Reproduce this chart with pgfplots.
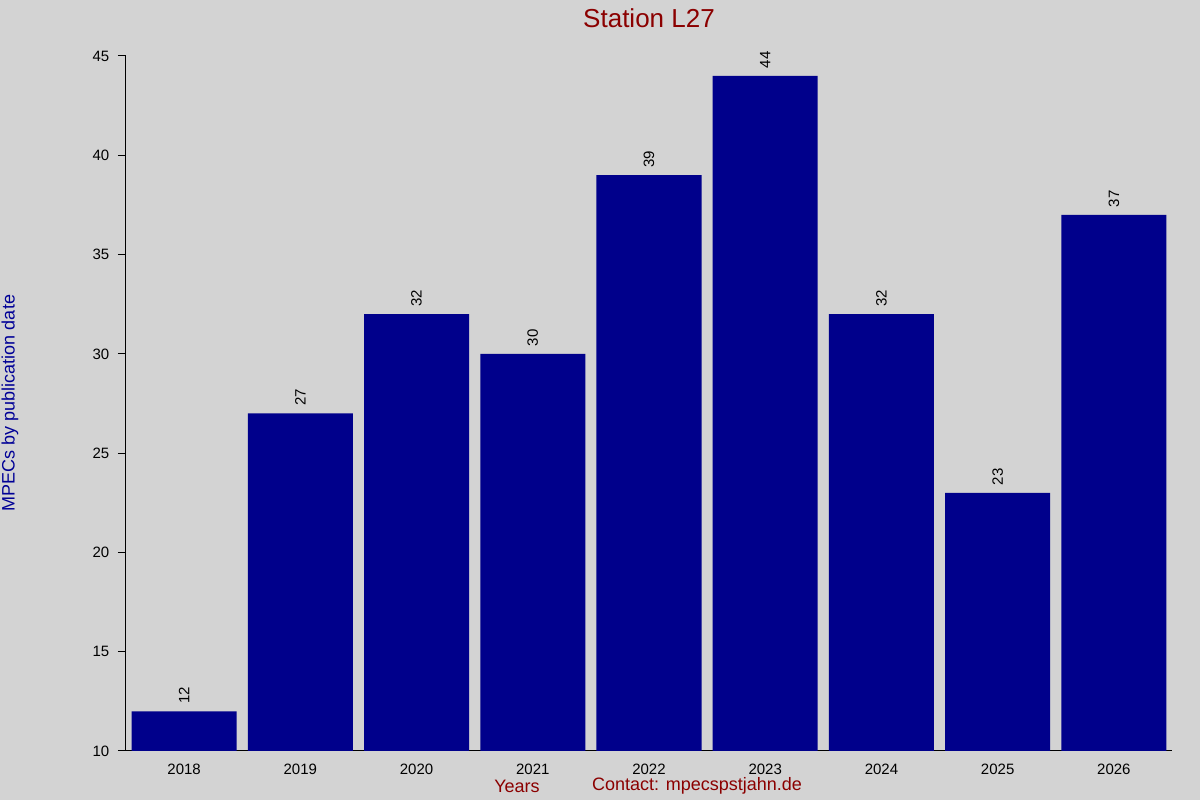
\documentclass[border=0pt]{standalone}
\usepackage{pgfplots}
\pgfplotsset{compat=1.18}
\usepackage{fontspec}
\setmainfont{Liberation Sans}
\definecolor{bggray}{RGB}{211,211,211}
\definecolor{barblue}{RGB}{0,0,139}
\definecolor{darkred}{RGB}{139,0,0}
\definecolor{labelblue}{RGB}{0,0,150}

\begin{document}
\begin{tikzpicture}
% canvas 1200x800 px at 0.75pt per px
\useasboundingbox (0,0) rectangle (900pt,600pt);
\fill[bggray] (0,0) rectangle (900pt,600pt);
\begin{axis}[
    at={(94.5pt,36.75pt)}, anchor=south west,
    scale only axis,
    width=784.5pt, height=521.25pt,
    xmin=-0.5, xmax=8.5,
    ymin=10, ymax=45,
    axis lines*=left,
    axis line style={black, line width=0.75pt},
    ybar, bar width=78.75pt,
    xtick=data,
    xticklabels={2018,2019,2020,2021,2022,2023,2024,2025,2026},
    xtick style={draw=none},
    ytick={10,15,20,25,30,35,40,45},
    ytick style={black, line width=0.75pt},
    major tick length=6pt,
    tick align=outside,
    /pgf/number format/assume math mode=true,
    ticklabel style={font=\fontsize{11.25}{13}\selectfont, black},
    yticklabel style={xshift=-3pt},
    nodes near coords,
    nodes near coords style={rotate=90, anchor=west, inner xsep=5.5pt, inner ysep=0pt,
        font=\fontsize{11.25}{13}\selectfont, black},
]
\addplot[fill=barblue, draw=none] coordinates {
    (0,12) (1,27) (2,32) (3,30) (4,39) (5,44) (6,32) (7,23) (8,37)
};
\end{axis}
\node[darkred, font=\fontsize{19.5}{22}\selectfont] at (486.75pt,586.5pt) {Station L27};
\node[labelblue, rotate=90, font=\fontsize{13.5}{16}\selectfont] at (7.5pt,297.75pt) {MPECs by publication date};
\node[darkred, font=\fontsize{13.5}{16}\selectfont] at (387.75pt,10.5pt) {Years};
\node[darkred, font=\fontsize{13.5}{16}\selectfont] at (522.75pt,10.5pt) {Contact: mpecspstjahn.de};
\end{tikzpicture}
\end{document}
